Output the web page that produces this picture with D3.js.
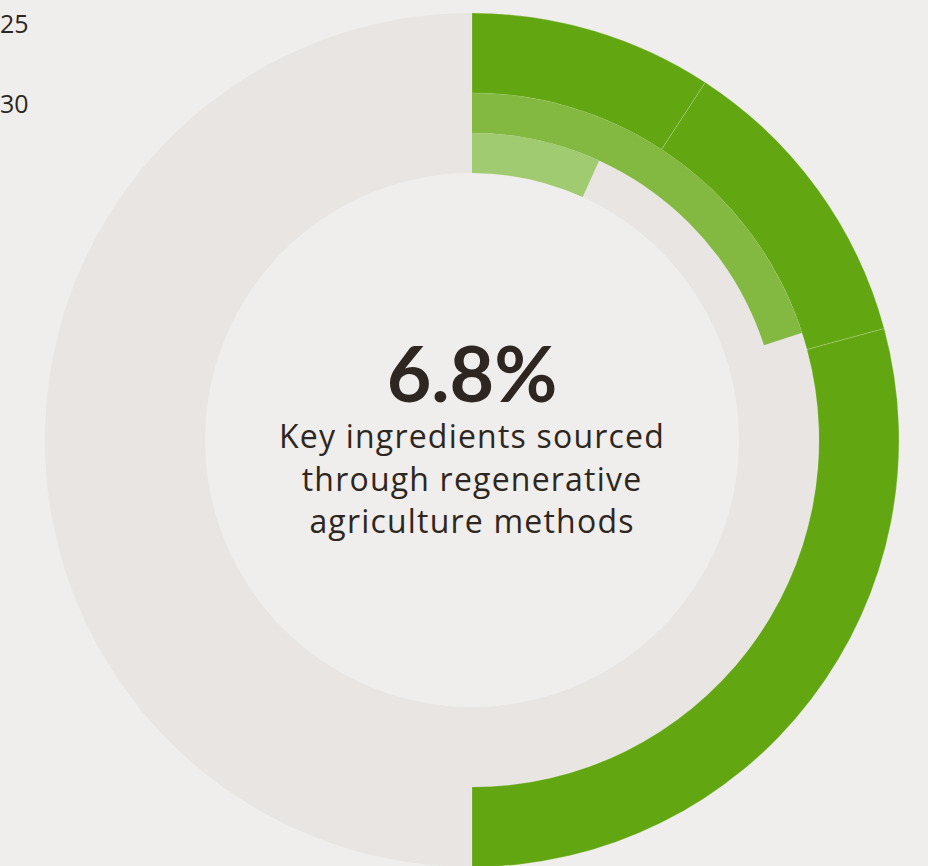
<!DOCTYPE html>
<html><head><meta charset="utf-8">
<script src="https://cdn.jsdelivr.net/npm/d3@7"></script>
<style>html,body{margin:0;padding:0;background:#efeeec;overflow:hidden}svg{display:block}</style>
</head><body>
<script>
// Data (percent of full circle)
const outerSegments = [9.2, 11.6, 29.2];      // dark green outer ring, cumulative to 50%
const middleValue = 20;                      // medium green ring
const innerValue = 6.8;                      // light green ring
const legendLabels = ["25", "30"];           // visible (clipped) legend labels
const headline = "6.8%";
const subtitleLines = ["Key ingredients sourced", "through regenerative", "agriculture methods"];

const W = 928, H = 866;
const cx = 472, cy = 440;
const rOuter = 427, rMidOuter = 347, rInOuter = 307, rInner = 267;
const colors = {bg:"#efeeec", ring:"#e8e5e2", dark:"#62a711", mid:"#83b940", light:"#a0cb71", text:"#2e2620"};

const svg = d3.select("body").append("svg").attr("width", W).attr("height", H);
svg.append("rect").attr("width", W).attr("height", H).attr("fill", colors.bg);

const g = svg.append("g").attr("transform", `translate(${cx},${cy})`);
const angle = d3.scaleLinear().domain([0, 100]).range([0, 2 * Math.PI]);

// background ring
g.append("path")
  .attr("d", d3.arc().innerRadius(rInner).outerRadius(rOuter).startAngle(0).endAngle(2 * Math.PI)())
  .attr("fill", colors.ring);

// outer segments
let cum = 0;
const outerArcs = outerSegments.map(v => { const a = {start: cum, end: cum + v}; cum += v; return a; });
g.selectAll("path.outer").data(outerArcs).enter().append("path")
  .attr("class", "outer")
  .attr("d", d => d3.arc().innerRadius(rMidOuter).outerRadius(rOuter)
      .startAngle(angle(d.start)).endAngle(angle(d.end))())
  .attr("fill", colors.dark)
  .attr("stroke", "rgba(255,255,255,0.3)").attr("stroke-width", 0.6);

// middle ring
g.append("path")
  .attr("d", d3.arc().innerRadius(rInOuter).outerRadius(rMidOuter).startAngle(0).endAngle(angle(middleValue))())
  .attr("fill", colors.mid);

// inner ring
g.append("path")
  .attr("d", d3.arc().innerRadius(rInner).outerRadius(rInOuter).startAngle(0).endAngle(angle(innerValue))())
  .attr("fill", colors.light);

// center text
g.append("text").attr("x", 0).attr("y", -38).attr("text-anchor", "middle")
  .attr("font-family", "Lato, 'Open Sans', sans-serif").attr("font-weight", 700)
  .attr("font-size", 77).attr("fill", colors.text).text(headline);

g.selectAll("text.sub").data(subtitleLines).enter().append("text")
  .attr("class", "sub").attr("x", 0).attr("y", (d, i) => 8 + i * 42.5)
  .attr("text-anchor", "middle")
  .attr("font-family", "'Open Sans', Lato, sans-serif")
  .attr("font-size", 32).attr("letter-spacing", 1.2)
  .attr("fill", colors.text).text(d => d);

// legend (visible part at the left edge)
svg.selectAll("text.legend").data(legendLabels).enter().append("text")
  .attr("class", "legend").attr("x", 0).attr("y", (d, i) => 33 + i * 80)
  .attr("text-anchor", "start")
  .attr("font-family", "'Open Sans', Lato, sans-serif")
  .attr("font-size", 25).attr("fill", colors.text).text(d => d);
</script>
</body></html>
